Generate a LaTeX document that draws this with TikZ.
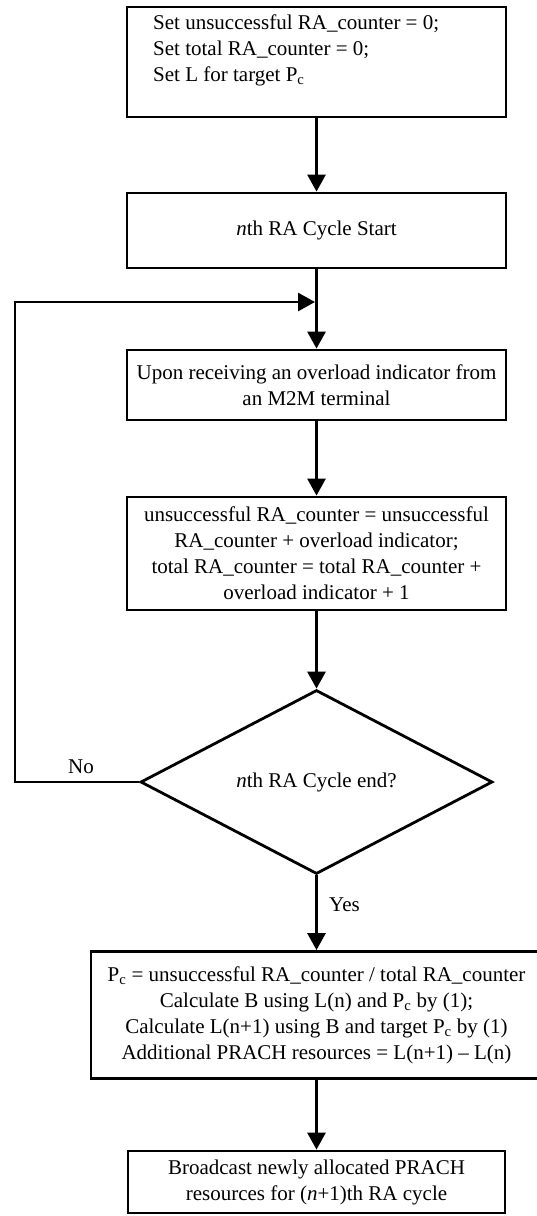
\documentclass[tikz,border=0pt]{standalone}
\usepackage{fontspec}
\setmainfont{Liberation Serif}
\usetikzlibrary{arrows.meta,shapes.geometric}
\tikzset{
  box/.style={draw, line width=2.8pt, minimum width=379pt, align=center, inner sep=0pt},
  arr/.style={line width=2.8pt, -{Triangle[length=17pt,width=18pt]}},
  lbl/.style={inner sep=0pt}
}
\begin{document}
\begin{tikzpicture}[x=1pt,y=-1pt,font=\fontsize{21pt}{26pt}\selectfont]
\useasboundingbox (0,0) rectangle (537,1216);
\node[box, minimum height=110pt] (b1) at (316.5,62) {};
\node[lbl, anchor=west, align=left] (t1) at (153,50) {Set unsuccessful RA\_counter = 0;\\Set total RA\_counter = 0;\\Set L for target P\textsubscript{c}};
\node[box, minimum height=75pt] (b2) at (316.5,230.5) {\textit{n}th RA Cycle Start};
\node[box, minimum height=70pt] (b3) at (316.5,385) {Upon receiving an overload indicator from\\an M2M terminal};
\node[box, minimum height=113pt] (b4) at (316.5,553.5) {unsuccessful RA\_counter = unsuccessful\\RA\_counter + overload indicator;\\total RA\_counter = total RA\_counter +\\overload indicator + 1};
\node[draw, diamond, line width=2.8pt, minimum width=352pt, minimum height=184pt, inner sep=0pt] (d) at (316.5,782) {\textit{n}th RA Cycle end?};
\node[box, minimum width=451pt, minimum height=127pt] (b5) at (316.5,1015) {P\textsubscript{c} = unsuccessful RA\_counter / total RA\_counter\\Calculate B using L(n) and P\textsubscript{c} by (1);\\Calculate L(n+1) using B and target P\textsubscript{c} by (1)\\Additional PRACH resources = L(n+1) – L(n)};
\node[box, minimum width=377pt, minimum height=62pt] (b6) at (316.5,1182) {Broadcast newly allocated PRACH\\resources for (\textit{n}+1)th RA cycle};
\coordinate (lp) at (15,302);
\coordinate (m) at (315,302);
\draw[arr] (b1) -- (b2);
\draw[arr] (b2) -- (b3);
\draw[arr] (b3) -- (b4);
\draw[arr] (b4) -- (d);
\draw[arr] (d) -- (b5);
\draw[arr] (b5) -- (b6);
\draw[arr, line join=miter] (d.west) -| (lp) -- (m);
\node[lbl] (no) at (81,767) {No};
\node[lbl, anchor=west] (yes) at (329,905) {Yes};
\end{tikzpicture}
\end{document}
